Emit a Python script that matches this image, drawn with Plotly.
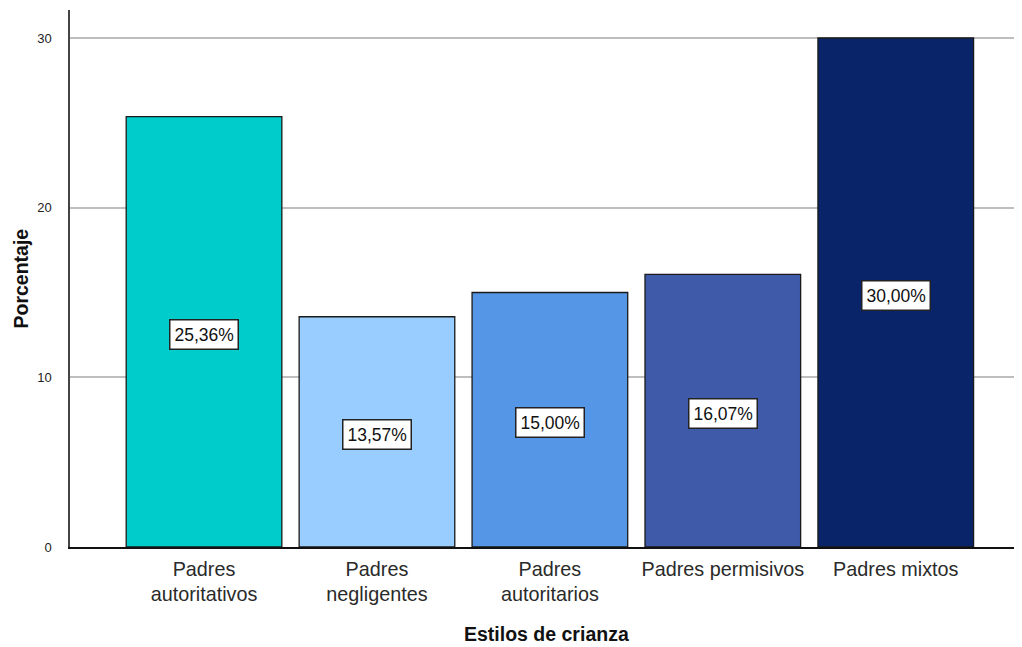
import plotly.graph_objects as go

categorias = ["Padres<br>autoritativos", "Padres<br>negligentes", "Padres<br>autoritarios",
              "Padres permisivos", "Padres mixtos"]
porcentajes = [25.36, 13.57, 15.00, 16.07, 30.00]
colores = ["#00CCCC", "#99CCFF", "#5596E6", "#3E5AA8", "#0A246A"]
y_ticks = [0, 10, 20, 30]

x_pos = list(range(len(categorias)))

fig = go.Figure()
fig.add_trace(go.Bar(
    x=x_pos, y=porcentajes, width=0.9,
    marker=dict(color=colores, line=dict(color="#1a1a1a", width=1.3)),
    hoverinfo="skip",
))

for xi, v in zip(x_pos, porcentajes):
    fig.add_annotation(
        x=xi, y=v / 2, yshift=-3, text=f"{v:.2f}%".replace(".", ","),
        showarrow=False, bgcolor="white", bordercolor="#222", borderwidth=1.5,
        borderpad=4,
        font=dict(family="Liberation Sans, Arial", size=17.5, color="#111"),
    )

fig.add_annotation(
    x=0.5, y=0, xref="paper", yref="paper", yshift=-100,
    text="<b>Estilos de crianza</b>", showarrow=False,
    font=dict(family="Liberation Sans, Arial", size=19.5, color="#111"),
)
fig.add_annotation(
    x=0, y=0.5, xref="paper", yref="paper", xshift=-63, textangle=-90,
    text="<b>Porcentaje</b>", showarrow=False,
    font=dict(family="Liberation Sans, Arial", size=19.5, color="#111"),
)

fig.update_layout(
    width=1014, height=639,
    margin=dict(l=62, r=0, t=2, b=100, autoexpand=False),
    plot_bgcolor="white", paper_bgcolor="white",
    showlegend=False,
    font=dict(family="Liberation Sans, Arial", color="#222"),
    xaxis=dict(
        range=[-0.775, 4.73], tickvals=x_pos, ticktext=categorias,
        showline=True, linecolor="#111", linewidth=1.5, showgrid=False,
        ticks="", tickfont=dict(size=19.8, color="#2a2a2a"), ticklabelstandoff=3,
        zeroline=False, automargin=False,
    ),
    yaxis=dict(
        range=[0, 31.65], tickvals=y_ticks,
        showline=True, linecolor="#444", linewidth=1.5,
        showgrid=True, gridcolor="#BEBEBE", gridwidth=1.5,
        ticks="", ticklabelstandoff=14,
        tickfont=dict(size=13, color="#222"),
        zeroline=False, automargin=False,
    ),
)

fig.write_html("out.html")
